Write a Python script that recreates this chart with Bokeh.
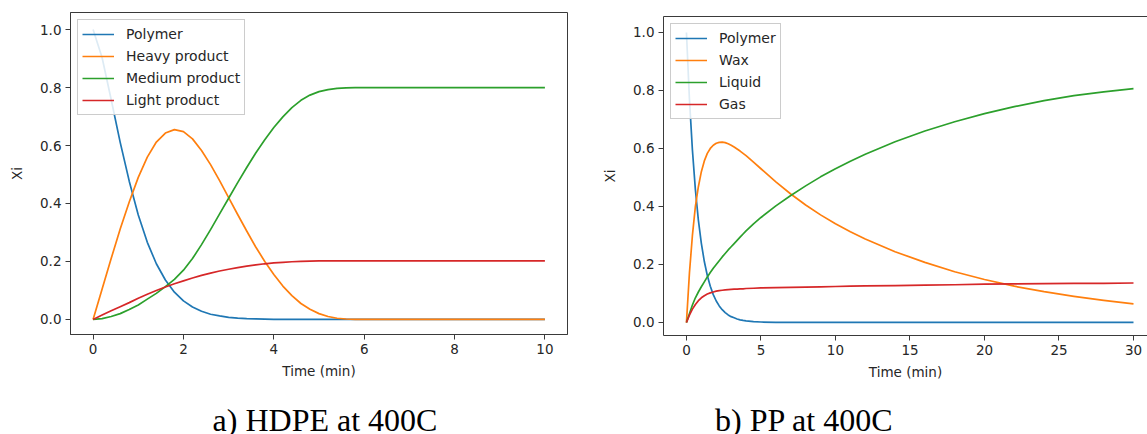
from bokeh.plotting import figure
from bokeh.models import (Range1d, FixedTicker, NumeralTickFormatter, Legend,
                          LegendItem, LinearAxis)
from bokeh.core.properties import value
from bokeh.layouts import row, column
from bokeh.embed import file_html
from bokeh.resources import INLINE

# ---- HDPE at 400C: mass fractions vs time (min) ----
hdpe_time = [0.0, 0.2, 0.4, 0.6, 0.8, 1.0, 1.2, 1.4, 1.6, 1.8, 2.0, 2.2, 2.4, 2.6,
             2.8, 3.0, 3.2, 3.4, 3.6, 3.8, 4.0, 4.2, 4.4, 4.6, 4.8, 5.0, 5.2, 5.4,
             5.6, 5.8, 6.0, 6.5, 7.0, 8.0, 9.0, 10.0]
hdpe_polymer = [1.0, 0.903, 0.759, 0.611, 0.477, 0.36, 0.266, 0.192, 0.136, 0.094,
                0.064, 0.043, 0.028, 0.018, 0.012, 0.007, 0.0045, 0.0027, 0.0016,
                0.001, 0.0005, 0.0, 0.0, 0.0, 0.0, 0.0, 0.0, 0.0, 0.0, 0.0, 0.0,
                0.0, 0.0, 0.0, 0.0, 0.0]
hdpe_heavy = [0.0, 0.105, 0.21, 0.312, 0.405, 0.49, 0.56, 0.612, 0.643, 0.655,
              0.648, 0.623, 0.583, 0.534, 0.479, 0.42, 0.362, 0.305, 0.25, 0.2,
              0.155, 0.115, 0.082, 0.055, 0.035, 0.02, 0.01, 0.004, 0.0015, 0.0005,
              0.0, 0.0, 0.0, 0.0, 0.0, 0.0]
hdpe_medium = [0.0, 0.003, 0.01, 0.02, 0.034, 0.05, 0.07, 0.09, 0.113, 0.138, 0.17,
               0.21, 0.258, 0.31, 0.364, 0.418, 0.472, 0.524, 0.574, 0.62, 0.662,
               0.699, 0.731, 0.756, 0.774, 0.786, 0.793, 0.797, 0.799, 0.8, 0.8,
               0.8, 0.8, 0.8, 0.8, 0.8]
hdpe_light = [0.0, 0.015, 0.03, 0.044, 0.058, 0.073, 0.087, 0.1, 0.112, 0.123,
              0.133, 0.143, 0.152, 0.16, 0.167, 0.173, 0.179, 0.184, 0.188, 0.192,
              0.195, 0.197, 0.199, 0.2, 0.201, 0.202, 0.202, 0.202, 0.202, 0.202,
              0.202, 0.202, 0.202, 0.202, 0.202, 0.202]
hdpe_labels = ["Polymer", "Heavy product", "Medium product", "Light product"]

# ---- PP at 400C ----
pp_time = [0.0, 0.2, 0.4, 0.6, 0.8, 1.0, 1.2, 1.4, 1.6, 1.8, 2.0, 2.2, 2.4, 2.6,
           2.8, 3.0, 3.2, 3.4, 3.6, 3.8, 4.0, 4.5, 5, 6, 7, 8, 9, 10, 11, 12,
           14, 16, 18, 20, 22, 24, 26, 28, 30]
pp_polymer = [1.0, 0.771, 0.595, 0.458, 0.353, 0.273, 0.21, 0.162, 0.125, 0.096,
              0.074, 0.057, 0.044, 0.034, 0.026, 0.02, 0.016, 0.012, 0.009, 0.007,
              0.0055, 0.003, 0.0015, 0.0005, 0.0, 0.0, 0.0, 0.0, 0.0, 0.0,
              0.0, 0.0, 0.0, 0.0, 0.0, 0.0, 0.0, 0.0, 0.0]
pp_wax = [0.0, 0.17, 0.3, 0.4, 0.468, 0.52, 0.557, 0.583, 0.6, 0.611, 0.618, 0.621,
          0.622, 0.62, 0.616, 0.611, 0.605, 0.598, 0.591, 0.583, 0.575, 0.553, 0.53,
          0.485, 0.443, 0.405, 0.371, 0.34, 0.313, 0.288, 0.244, 0.207, 0.175,
          0.148, 0.125, 0.106, 0.09, 0.076, 0.064]
pp_liquid = [0.0, 0.03, 0.06, 0.085, 0.105, 0.123, 0.14, 0.157, 0.172, 0.187, 0.2,
             0.213, 0.226, 0.238, 0.25, 0.261, 0.272, 0.283, 0.294, 0.305, 0.316,
             0.34, 0.362, 0.402, 0.438, 0.471, 0.502, 0.53, 0.556, 0.58, 0.623,
             0.66, 0.692, 0.72, 0.744, 0.765, 0.782, 0.795, 0.806]
pp_gas = [0.0, 0.025, 0.046, 0.062, 0.075, 0.085, 0.092, 0.098, 0.102, 0.105, 0.108,
          0.11, 0.111, 0.112, 0.113, 0.114, 0.115, 0.115, 0.116, 0.116, 0.117,
          0.118, 0.119, 0.12, 0.121, 0.122, 0.123, 0.124, 0.125, 0.126, 0.127,
          0.129, 0.13, 0.132, 0.133, 0.134, 0.135, 0.135, 0.136]
pp_labels = ["Polymer", "Wax", "Liquid", "Gas"]

y_ticks = [0.0, 0.2, 0.4, 0.6, 0.8, 1.0]
hdpe_x_ticks = [0, 2, 4, 6, 8, 10]
pp_x_ticks = [0, 5, 10, 15, 20, 25, 30]

COLORS = ["#1f77b4", "#ff7f0e", "#2ca02c", "#d62728"]
SANS = "DejaVu Sans"
FRAME = "#3a3a3a"
TEXT = "#262626"
PLOT_H = 395
CAPTION_H = 39


def style_axis(ax, ticks, fmt):
    ax.ticker = FixedTicker(ticks=ticks)
    if fmt:
        ax.formatter = NumeralTickFormatter(format=fmt)
    ax.axis_line_color = FRAME
    ax.major_tick_line_color = FRAME
    ax.major_tick_out = 5
    ax.major_tick_in = 0
    ax.minor_tick_line_color = None
    ax.major_label_text_font = SANS
    ax.major_label_text_font_size = "13.5px"
    ax.major_label_text_color = TEXT
    ax.major_label_standoff = 4
    ax.axis_label_text_font = SANS
    ax.axis_label_text_font_size = "13.5px"
    ax.axis_label_text_font_style = "normal"
    ax.axis_label_text_color = TEXT


def panel(t, series, labels, xr, yr, xticks, width, borders, open_right):
    left, right, top, bottom = borders
    p = figure(width=width, height=PLOT_H, x_range=Range1d(*xr), y_range=Range1d(*yr),
               output_backend="svg", toolbar_location=None,
               min_border_left=left, min_border_right=right,
               min_border_top=top, min_border_bottom=bottom)
    p.xgrid.grid_line_color = None
    p.ygrid.grid_line_color = None
    p.background_fill_color = "white"
    p.border_fill_color = "white"

    style_axis(p.xaxis[0], xticks, None)
    style_axis(p.yaxis[0], y_ticks, "0.0")
    p.xaxis[0].axis_label = "Time (min)"
    p.xaxis[0].axis_label_standoff = 6
    p.yaxis[0].axis_label = "Xi"
    p.yaxis[0].axis_label_standoff = 12

    if open_right:
        # frame closed on three sides only; the right edge runs past the page
        p.outline_line_color = None
        top_axis = LinearAxis(ticker=FixedTicker(ticks=[]), major_label_text_font_size="0px",
                              axis_line_color=FRAME, major_tick_line_color=None,
                              minor_tick_line_color=None)
        p.add_layout(top_axis, "above")
    else:
        p.outline_line_color = FRAME
        p.outline_line_width = 1

    items = []
    for ys, lab, col in zip(series, labels, COLORS):
        r = p.line(t, ys, line_color=col, line_width=1.7, line_join="round")
        items.append(LegendItem(label=lab, renderers=[r]))

    legend = Legend(items=items, location="top_left", glyph_width=32, glyph_height=20,
                    label_height=20, spacing=2, padding=4, margin=7, label_standoff=12,
                    label_text_font=SANS, label_text_font_size="14px",
                    label_text_color=TEXT, border_line_color="#cccccc",
                    border_line_alpha=1.0, background_fill_alpha=0.85)
    p.add_layout(legend)
    return p


def caption_strip(text, width, center_x):
    # thin strip beneath each chart holding its serif sub-caption
    c = figure(width=width, height=CAPTION_H, x_range=Range1d(0, width),
               y_range=Range1d(0, CAPTION_H), x_axis_type=None, y_axis_type=None,
               output_backend="svg", toolbar_location=None,
               min_border_left=0, min_border_right=0, min_border_top=0,
               min_border_bottom=0)
    c.xgrid.grid_line_color = None
    c.ygrid.grid_line_color = None
    c.outline_line_color = None
    c.text(x=[center_x], y=[15], text=[text], text_font=value("Liberation Serif"),
           text_font_size="32px", text_color="#000000", text_align="center",
           text_baseline="middle")
    return c


p1 = panel(hdpe_time, [hdpe_polymer, hdpe_heavy, hdpe_medium, hdpe_light], hdpe_labels,
           (-0.5, 10.5), (-0.052, 1.059), hdpe_x_ticks, 580, (70, 13, 12, 61), False)
p2 = panel(pp_time, [pp_polymer, pp_wax, pp_liquid, pp_gas], pp_labels,
           (-1.54, 30.94), (-0.045, 1.055), pp_x_ticks, 567, (83, 0, 16, 60), True)

c1 = caption_strip("a) HDPE at 400C", 580, 297)
c2 = caption_strip("b) PP at 400C", 567, 165)

layout = row(column(p1, c1, spacing=0), column(p2, c2, spacing=0), spacing=0)

with open("out.html", "w") as f:
    f.write(file_html(layout, INLINE))
